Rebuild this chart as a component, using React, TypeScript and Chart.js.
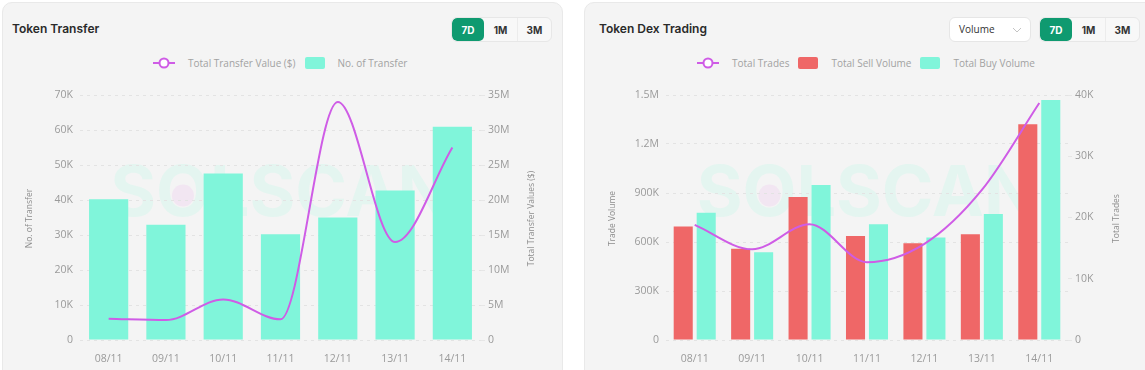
import React, { useEffect, useRef } from "react";
import { Chart, registerables } from "chart.js";

Chart.register(...registerables);

// ---------- data ----------
const dates = ["08/11", "09/11", "10/11", "11/11", "12/11", "13/11", "14/11"];
const transferCounts = [40200, 32900, 47600, 30200, 35000, 42700, 60900];
const transferValues = [3050000, 2850000, 5800000, 2950000, 34000000, 14000000, 27500000];
const sellVolumes = [695000, 559000, 876000, 637000, 592000, 647000, 1321000];
const buyVolumes = [779000, 537000, 949000, 708000, 627000, 771000, 1470000];
const totalTrades = [18800, 14800, 18900, 12700, 15700, 24500, 38700];

const transferCountAxis = { max: 70000, step: 10000 };
const transferValueAxis = { max: 35000000, step: 5000000 };
const tradeVolumeAxis = { max: 1500000, step: 300000 };
const tradesAxis = { max: 40000, step: 10000 };
const rangeButtons = ["7D", "1M", "3M"];

// ---------- style constants ----------
const TEAL = "#80f5da";
const RED = "#ef6767";
const PURPLE = "#cf5ce6";
const GREEN = "#0f9a70";
const TICK_COLOR = "#9a9a9a";
const FONT = '"Open Sans", "Noto Sans", sans-serif';

Chart.defaults.font.family = FONT;

function fmt(v: number): string {
  if (v === 0) return "0";
  if (Math.abs(v) >= 1e6) return String(Math.round(v / 1e5) / 10) + "M";
  if (Math.abs(v) >= 1e3) return String(Math.round(v / 100) / 10) + "K";
  return String(v);
}

// watermark plugin
const watermarkPlugin = {
  id: "watermark",
  beforeDraw(chart: any) {
    const { ctx, chartArea: a } = chart;
    if (!a) return;
    const text = "SOLSCAN";
    ctx.save();
    ctx.font = '700 70px Inter, "Open Sans", sans-serif';
    const w = ctx.measureText(text).width;
    const cx = (a.left + a.right) / 2;
    const cy = a.top + a.height * 0.41;
    const x0 = cx - w / 2;
    ctx.textBaseline = "middle";
    ctx.textAlign = "left";
    ctx.fillStyle = "#e4f5f0";
    ctx.fillText(text, x0, cy);
    const sW = ctx.measureText("S").width;
    const oW = ctx.measureText("O").width;
    ctx.fillStyle = "#f2e6f2";
    ctx.beginPath();
    ctx.arc(x0 + sW + oW / 2, cy, 11, 0, Math.PI * 2);
    ctx.fill();
    ctx.restore();
  },
};

// rotated side titles (both read bottom-to-top), text from scale title options
const sideTitlesPlugin = {
  id: "sideTitles",
  afterDraw(chart: any, _args: any, opts: any) {
    const { ctx, chartArea: a } = chart;
    if (!a || !opts || !opts.items) return;
    ctx.save();
    ctx.font = `8.5px ${FONT}`;
    ctx.fillStyle = "#8c8c8c";
    ctx.textAlign = "center";
    ctx.textBaseline = "middle";
    const cy = (a.top + a.bottom) / 2 + 1;
    for (const it of opts.items) {
      const scale = chart.scales[it.scale];
      const text = scale?.options?.title?.text || "";
      const x = it.side === "left" ? a.left - it.offset : a.right + it.offset;
      ctx.save();
      ctx.translate(x, cy);
      ctx.rotate(-Math.PI / 2);
      ctx.fillText(text, 0, 0);
      ctx.restore();
    }
    ctx.restore();
  },
};

const tickFont = { size: 10.5, family: FONT };

function xScale() {
  return {
    grid: { display: false },
    border: { display: false },
    ticks: { color: TICK_COLOR, font: tickFont, padding: 5, maxRotation: 0 },
    afterFit: (s: any) => {
      s.height = 30;
    },
  };
}

function leftScale(max: number, step: number, title: string, width: number) {
  return {
    type: "linear",
    position: "left",
    min: 0,
    max,
    title: { display: false, text: title },
    ticks: { stepSize: step, callback: (v: any) => fmt(Number(v)), color: TICK_COLOR, font: tickFont, padding: 7 },
    grid: { color: "#e3e3e3", drawTicks: false, lineWidth: 1 },
    border: { display: false, dash: [3, 4] },
    afterFit: (s: any) => {
      s.width = width;
    },
  };
}

function rightScale(max: number, step: number, title: string, width: number) {
  return {
    type: "linear",
    position: "right",
    min: 0,
    max,
    title: { display: false, text: title },
    ticks: { stepSize: step, callback: (v: any) => fmt(Number(v)), color: TICK_COLOR, font: tickFont, padding: 3 },
    grid: { drawOnChartArea: false, drawTicks: true, tickLength: 4, color: "#e6e6e6" },
    border: { display: false },
    afterFit: (s: any) => {
      s.width = width;
    },
  };
}

function transferConfig(): any {
  return {
    type: "bar",
    data: {
      labels: dates,
      datasets: [
        {
          type: "line",
          label: "Total Transfer Value ($)",
          data: transferValues,
          yAxisID: "y1",
          borderColor: PURPLE,
          backgroundColor: PURPLE,
          borderWidth: 2,
          pointRadius: 0,
          cubicInterpolationMode: "monotone",
          order: 0,
        },
        {
          type: "bar",
          label: "No. of Transfer",
          data: transferCounts,
          yAxisID: "y",
          backgroundColor: TEAL,
          categoryPercentage: 0.8,
          barPercentage: 0.855,
          order: 1,
        },
      ],
    },
    options: {
      responsive: false,
      animation: false,
      devicePixelRatio: 1,
      layout: { padding: { top: 15, left: 0, right: 0, bottom: 0 } },
      plugins: {
        legend: { display: false },
        tooltip: { enabled: false },
        sideTitles: {
          items: [
            { scale: "y", side: "left", offset: 50 },
            { scale: "y1", side: "right", offset: 51 },
          ],
        },
      },
      scales: {
        x: xScale(),
        y: leftScale(transferCountAxis.max, transferCountAxis.step, "No. of Transfer", 80),
        y1: rightScale(transferValueAxis.max, transferValueAxis.step, "Total Transfer Values ($)", 82),
      },
    },
    plugins: [watermarkPlugin, sideTitlesPlugin],
  };
}

function dexConfig(): any {
  return {
    type: "bar",
    data: {
      labels: dates,
      datasets: [
        {
          type: "line",
          label: "Total Trades",
          data: totalTrades,
          yAxisID: "y1",
          borderColor: PURPLE,
          backgroundColor: PURPLE,
          borderWidth: 2,
          pointRadius: 0,
          cubicInterpolationMode: "monotone",
          order: 0,
        },
        {
          type: "bar",
          label: "Total Sell Volume",
          data: sellVolumes,
          yAxisID: "y",
          backgroundColor: RED,
          categoryPercentage: 0.8,
          barPercentage: 0.83,
          order: 1,
        },
        {
          type: "bar",
          label: "Total Buy Volume",
          data: buyVolumes,
          yAxisID: "y",
          backgroundColor: TEAL,
          categoryPercentage: 0.8,
          barPercentage: 0.83,
          order: 1,
        },
      ],
    },
    options: {
      responsive: false,
      animation: false,
      devicePixelRatio: 1,
      layout: { padding: { top: 15, left: 0, right: 0, bottom: 0 } },
      plugins: {
        legend: { display: false },
        tooltip: { enabled: false },
        sideTitles: {
          items: [
            { scale: "y", side: "left", offset: 53 },
            { scale: "y1", side: "right", offset: 49 },
          ],
        },
      },
      scales: {
        x: xScale(),
        y: leftScale(tradeVolumeAxis.max, tradeVolumeAxis.step, "Trade Volume", 82),
        y1: rightScale(tradesAxis.max, tradesAxis.step, "Total Trades", 77),
      },
    },
    plugins: [watermarkPlugin, sideTitlesPlugin],
  };
}

function ChartCanvas(props: { make: () => any; left: number; top: number; width: number; height: number }) {
  const ref = useRef<HTMLCanvasElement | null>(null);
  useEffect(() => {
    const chart = new Chart(ref.current as HTMLCanvasElement, props.make());
    return () => chart.destroy();
  }, []);
  return (
    <canvas
      ref={ref}
      width={props.width}
      height={props.height}
      style={{ position: "absolute", left: props.left, top: props.top, width: props.width, height: props.height }}
    />
  );
}

function Card(props: { left: number; width: number }) {
  return (
    <div
      style={{
        position: "absolute",
        left: props.left,
        top: 2,
        width: props.width,
        height: 420,
        boxSizing: "border-box",
        background: "#f4f4f4",
        border: "1px solid #e9e9e9",
        borderRadius: 10,
      }}
    />
  );
}

function Title(props: { left: number; text: string }) {
  return (
    <div
      style={{
        position: "absolute",
        left: props.left,
        top: 20,
        fontFamily: "Inter, sans-serif",
        fontSize: 12,
        fontWeight: 600,
        lineHeight: "17px",
        color: "#2a2a2a",
        whiteSpace: "nowrap",
      }}
    >
      {props.text}
    </div>
  );
}

function RangeButtons(props: { left: number }) {
  return (
    <div
      style={{
        position: "absolute",
        left: props.left,
        top: 17,
        height: 25,
        display: "flex",
        boxSizing: "border-box",
        border: "1px solid #e7e7e7",
        borderRadius: 6,
        background: "#f8f8f8",
        overflow: "hidden",
        fontFamily: "Inter, sans-serif",
      }}
    >
      {rangeButtons.map((b, i) => (
        <div
          key={b}
          style={{
            width: i === 0 ? 32 : 33,
            height: 23,
            display: "flex",
            alignItems: "center",
            justifyContent: "center",
            fontSize: 10,
            fontWeight: 700,
            color: i === 0 ? "#ffffff" : "#333333",
            background: i === 0 ? GREEN : "transparent",
            borderLeft: i > 1 ? "1px solid #ececec" : "none",
            borderRadius: i === 0 ? 5 : 0,
          }}
        >
          {b}
        </div>
      ))}
    </div>
  );
}

function LineMarker() {
  return (
    <svg width={22} height={12} style={{ display: "block" }}>
      <line x1={0} y1={6} x2={22} y2={6} stroke={PURPLE} strokeWidth={2} />
      <circle cx={11} cy={6} r={4.5} fill="#ffffff" stroke={PURPLE} strokeWidth={2} />
    </svg>
  );
}

function BoxMarker(props: { color: string }) {
  return <div style={{ width: 20, height: 12, background: props.color, borderRadius: 2 }} />;
}

function Legend(props: { left: number; items: { kind: "line" | "box"; color: string; label: string }[] }) {
  return (
    <div
      style={{
        position: "absolute",
        left: props.left,
        top: 57,
        height: 12,
        display: "flex",
        alignItems: "center",
        fontFamily: FONT,
        fontSize: 10,
        color: "#a2a2a2",
        whiteSpace: "nowrap",
      }}
    >
      {props.items.map((it, i) => (
        <div key={it.label} style={{ display: "flex", alignItems: "center", marginLeft: i === 0 ? 0 : 9 }}>
          {it.kind === "line" ? <LineMarker /> : <BoxMarker color={it.color} />}
          <span style={{ marginLeft: 13, lineHeight: "12px" }}>{it.label}</span>
        </div>
      ))}
    </div>
  );
}

function Dropdown(props: { left: number }) {
  return (
    <div
      style={{
        position: "absolute",
        left: props.left,
        top: 17,
        width: 82,
        height: 25,
        boxSizing: "border-box",
        background: "#ffffff",
        border: "1px solid #e6e6e6",
        borderRadius: 6,
        fontFamily: FONT,
        fontSize: 10,
        color: "#333",
      }}
    >
      <span style={{ position: "absolute", left: 9, top: 5, lineHeight: "13px" }}>Volume</span>
      <svg width={10} height={6} style={{ position: "absolute", left: 62, top: 9 }}>
        <polyline points="1,1 5,5 9,1" fill="none" stroke="#c4c4c4" strokeWidth={1} />
      </svg>
    </div>
  );
}

export default function App() {
  useEffect(() => {
    document.body.style.margin = "0";
    document.body.style.background = "#ffffff";
  }, []);
  return (
    <div style={{ position: "relative", width: 1145, height: 370, overflow: "hidden", background: "#ffffff" }}>
      <Card left={2} width={561} />
      <Card left={584} width={600} />

      <Title left={12} text="Token Transfer" />
      <RangeButtons left={451} />
      <Legend
        left={153}
        items={[
          { kind: "line", color: PURPLE, label: "Total Transfer Value ($)" },
          { kind: "box", color: TEAL, label: "No. of Transfer" },
        ]}
      />
      <ChartCanvas make={transferConfig} left={0} top={80} width={563} height={290} />

      <Title left={599} text="Token Dex Trading" />
      <Dropdown left={949} />
      <RangeButtons left={1039} />
      <Legend
        left={697}
        items={[
          { kind: "line", color: PURPLE, label: "Total Trades" },
          { kind: "box", color: RED, label: "Total Sell Volume" },
          { kind: "box", color: TEAL, label: "Total Buy Volume" },
        ]}
      />
      <ChartCanvas make={dexConfig} left={584} top={80} width={561} height={290} />
    </div>
  );
}
